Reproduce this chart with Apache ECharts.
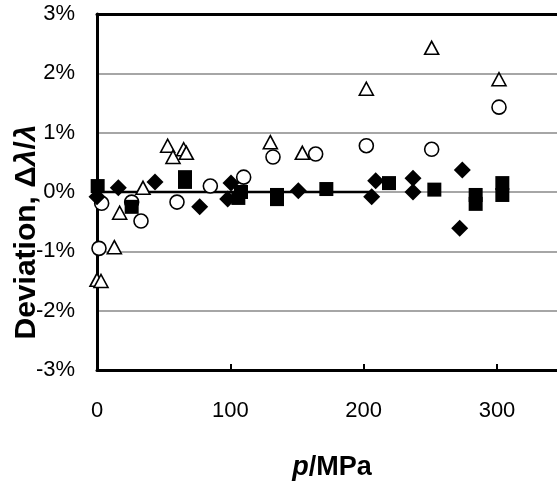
<!DOCTYPE html>
<html><head><meta charset="utf-8">
<script src="https://cdn.jsdelivr.net/npm/echarts@6/dist/echarts.min.js"></script>
<style>html,body{margin:0;padding:0;background:#fff}#c{width:557px;height:483px}</style>
</head><body><div id="c"></div>
<script>
// x tick values shown (MPa), y tick values (%)
const xTicks = [0, 100, 200, 300];
const yTicks = [-3, -2, -1, 0, 1, 2, 3];

// open triangles
const triP = [0, 3, 13, 17, 34.5, 53, 57, 65, 67, 130, 154, 202, 251, 301.5];
const triD = [-1.48, -1.5, -0.93, -0.35, 0.07, 0.78, 0.59, 0.72, 0.66, 0.84, 0.66, 1.74, 2.43, 1.9];
// open circles
const cirP = [1.5, 3.5, 26, 33, 60, 85, 110, 132, 164, 202, 251, 301.5];
const cirD = [-0.95, -0.19, -0.17, -0.49, -0.17, 0.1, 0.25, 0.59, 0.64, 0.78, 0.72, 1.43];
// filled diamonds
const diaP = [0, 16, 43.5, 77, 98, 100.5, 151, 206, 209, 237, 237, 272, 274];
const diaD = [-0.08, 0.07, 0.17, -0.25, -0.12, 0.15, 0.02, -0.08, 0.19, 0.0, 0.23, -0.61, 0.37];
// filled squares
const sqP = [0.5, 26, 66, 66, 106, 108, 135, 135, 172, 219, 253, 284, 284, 304, 304];
const sqD = [0.1, -0.25, 0.25, 0.17, -0.1, 0.0, -0.05, -0.12, 0.05, 0.15, 0.04, -0.05, -0.2, 0.15, -0.05];
// reference line at zero deviation
const lineP = [0, 205];
const lineD = [0, 0];

const zip = (a, b) => a.map((v, i) => [v, b[i]]);

const chart = echarts.init(document.getElementById('c'), null, {renderer: 'canvas'});
const FONT = 'Liberation Sans, Arial, sans-serif';
const mk = (fs, it) => ({fontFamily: FONT, fontSize: fs, fontWeight: 'bold', fontStyle: it ? 'italic' : 'normal', fill: '#000'});
chart.setOption({
  animation: false,
  backgroundColor: '#fff',
  grid: {left: 97, top: 14, right: 0, height: 356},
  xAxis: [{
    type: 'value', min: 0, max: 345, interval: 100,
    axisLine: {show: true, onZero: false, lineStyle: {color: '#000', width: 3}},
    axisTick: {show: true, inside: true, length: 6, customValues: [100, 200, 300], lineStyle: {color: '#000', width: 2}},
    axisLabel: {fontFamily: FONT, fontSize: 22, color: '#000', margin: 30, customValues: xTicks},
    splitLine: {show: false}
  }, {
    type: 'value', position: 'top', min: 0, max: 345,
    axisLine: {show: true, onZero: false, lineStyle: {color: '#000', width: 3}},
    axisTick: {show: false}, axisLabel: {show: false}, splitLine: {show: false}
  }],
  yAxis: {
    type: 'value', min: -3, max: 3, interval: 1,
    axisLine: {show: true, onZero: false, lineStyle: {color: '#000', width: 3}},
    axisTick: {show: false},
    axisLabel: {fontFamily: FONT, fontSize: 22, color: '#000', margin: 22,
      formatter: v => yTicks.includes(v) ? v + '%' : ''},
    splitLine: {show: true, lineStyle: {color: '#888', width: 1.5}}
  },
  graphic: [{
    type: 'text', x: 27, y: 232, rotation: Math.PI / 2,
    style: {
      text: '{b|Deviation, Δ}{i|λ}{b|/}{i|λ}',
      align: 'center', verticalAlign: 'middle',
      rich: {b: mk(30, false), i: mk(30, true)}
    }
  }, {
    type: 'text', x: 332, y: 468,
    style: {
      text: '{i|p}{b|/MPa}',
      align: 'center', verticalAlign: 'middle',
      rich: {b: mk(27, false), i: mk(27, true)}
    }
  }],
  series: [
    {type: 'line', data: zip(lineP, lineD), symbol: 'none', lineStyle: {color: '#000', width: 2.5}, z: 1},
    {type: 'scatter', data: zip(triP, triD), symbol: 'triangle', symbolSize: [14, 13],
      itemStyle: {color: '#fff', borderColor: '#000', borderWidth: 1.6, opacity: 1}, z: 3},
    {type: 'scatter', data: zip(cirP, cirD), symbol: 'circle', symbolSize: 14,
      itemStyle: {color: '#fff', borderColor: '#000', borderWidth: 1.6, opacity: 1}, z: 3},
    {type: 'scatter', data: zip(diaP, diaD), symbol: 'diamond', symbolSize: [17, 17],
      itemStyle: {color: '#000', opacity: 1}, z: 4},
    {type: 'scatter', data: zip(sqP, sqD), symbol: 'rect', symbolSize: 14,
      itemStyle: {color: '#000', opacity: 1}, z: 5}
  ]
});
</script></body></html>
